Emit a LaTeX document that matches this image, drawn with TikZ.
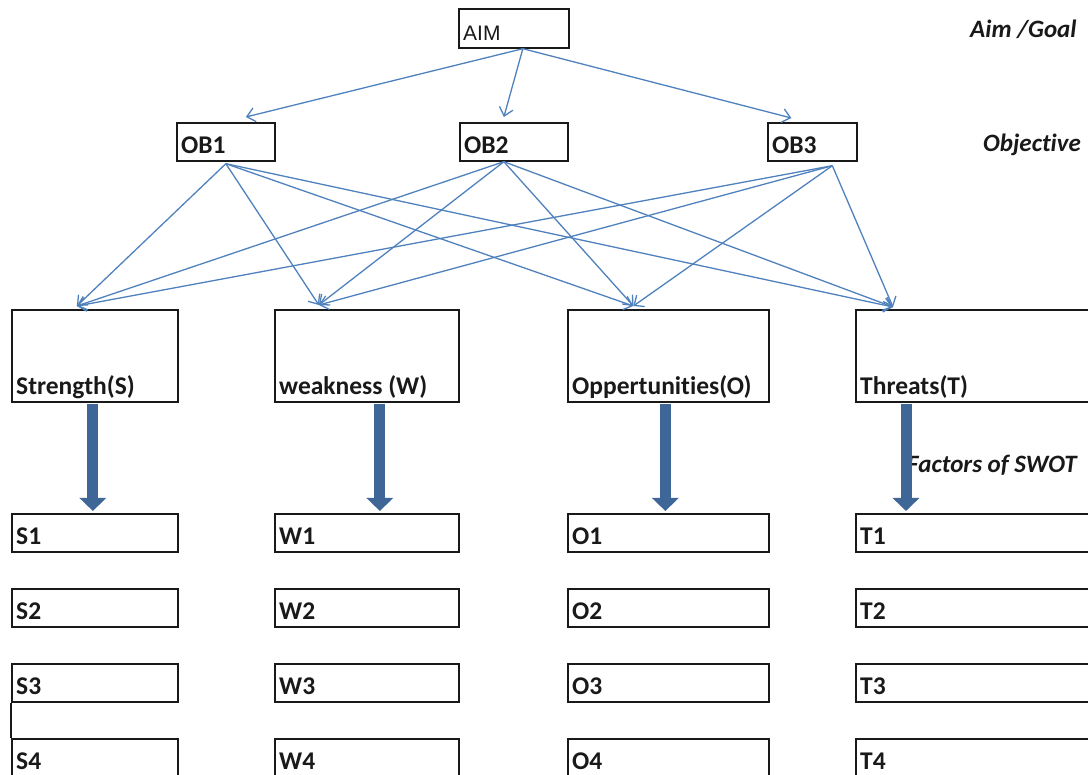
\documentclass[tikz,border=0pt]{standalone}
\usepackage{fontspec}
\setmainfont[Ligatures=CommonOff]{Carlito}
\newfontfamily\arialfont{Liberation Sans}
\usetikzlibrary{arrows.meta}
\usetikzlibrary{positioning}
\usetikzlibrary{calc}
\definecolor{linkblue}{HTML}{4F81BD}
\definecolor{fatblue}{HTML}{3E6797}
\newcommand{\lblfont}{\fontsize{25.5}{30}\selectfont\bfseries}
\newcommand{\sidefont}{\fontsize{25}{30}\selectfont\bfseries\itshape}
\newcommand{\bnode}[6]{\node(#1)[box,minimum width=#4pt,minimum height=#5pt,label={[lbl]south west:#6}] at (#2,#3) {}}

\begin{document}
\begin{tikzpicture}[x=1pt,y=-1pt,
        every node/.style={text=black!90},
        box/.style={rectangle,draw=black!90,line width=1.7pt,anchor=north west,inner sep=0pt},
        lbl/.style={anchor=base west,xshift=5pt,yshift=8pt,font=\lblfont,inner sep=0pt},
        side/.style={anchor=base west,font=\sidefont,inner sep=0pt},
        link/.style={draw=linkblue,line width=1.3pt,-{Straight Barb[length=8pt,width=14pt]}},
        fat/.style={draw=fatblue,line width=11pt,-{Triangle[length=13pt,width=26pt]}}
      ]
      \useasboundingbox (0,0) rectangle (1088,775);

      % aim and objectives
      \node(AIM)[box,minimum width=110pt,minimum height=39pt,
        label={[lbl,font=\arialfont\fontsize{21}{25}\selectfont]south west:AIM}] at (458,8) {};
      \bnode{OB1}{176}{122}{98}{38}{OB1};
      \bnode{OB2}{459}{122}{108}{38}{OB2};
      \bnode{OB3}{767}{122}{89}{38}{OB3};

      % SWOT boxes
      \bnode{S}{11}{309}{166}{92}{Strength(S)};
      \bnode{W}{274}{309}{184}{92}{weakness (W)};
      \bnode{O}{567}{309}{201}{92}{Oppertunities(O)};
      \bnode{T}{855}{309}{240}{92}{Threats(T)};

      % factors
      \foreach \i/\y in {1/513,2/588,3/663,4/738}{
        \bnode{S\i}{11}{\y}{166}{38}{S\i};
        \bnode{W\i}{274}{\y}{184}{38}{W\i};
        \bnode{O\i}{567}{\y}{201}{38}{O\i};
        \bnode{T\i}{855}{\y}{240}{38}{T\i};
      }
      \draw[draw=black!90,line width=1.7pt] (S3.south west) -- (S4.north west);

      % side captions
      \node(aimlbl)[side] at (970,38) {Aim /Goal};
      \node(objlbl)[side] at (983,152) {Objective};
      \node(swotlbl)[side] at (907,473) {Factors of SWOT};

      % arrow ends
      \coordinate (AIM-out) at ([xshift=9pt]AIM.south);
      \coordinate (OB1-in) at ([xshift=20pt,yshift=5pt]OB1.north);
      \coordinate (OB2-in) at ([xshift=-10pt,yshift=5pt]OB2.north);
      \coordinate (OB3-in) at ([xshift=-21pt,yshift=4pt]OB3.north);
      \coordinate (OB1-out) at ([yshift=-2pt]OB1.south);
      \coordinate (OB2-out) at ([xshift=-10pt]OB2.south);
      \coordinate (OB3-out) at ([xshift=20pt,yshift=-4pt]OB3.south);
      \coordinate (S-in) at ([xshift=-18pt,yshift=3pt]S.north);
      \coordinate (W-in) at ([xshift=-48pt,yshift=4pt]W.north);
      \coordinate (O-in) at ([xshift=-35pt,yshift=3pt]O.north);
      \coordinate (T-in) at ([xshift=38pt,yshift=2pt]T.north west);
      \coordinate (S-down) at ([xshift=-2pt,yshift=-1pt]S.south);
      \coordinate (W-down) at ([xshift=13pt,yshift=-1pt]W.south);
      \coordinate (O-down) at ([xshift=-3pt,yshift=-1pt]O.south);
      \coordinate (T-down) at ([xshift=51pt,yshift=-1pt]T.south west);

      \foreach \o in {OB1,OB2,OB3}
        \draw[link] (AIM-out) -- (\o-in);
      \foreach \o in {OB1,OB2,OB3}
        \foreach \f in {S,W,O,T}
          \draw[link] (\o-out) -- (\f-in);
      \foreach \f in {S,W,O,T}
        \draw[fat,shorten >=2pt] (\f-down) -- (\f-down |- \f1.north);
    \end{tikzpicture}
\end{document}
